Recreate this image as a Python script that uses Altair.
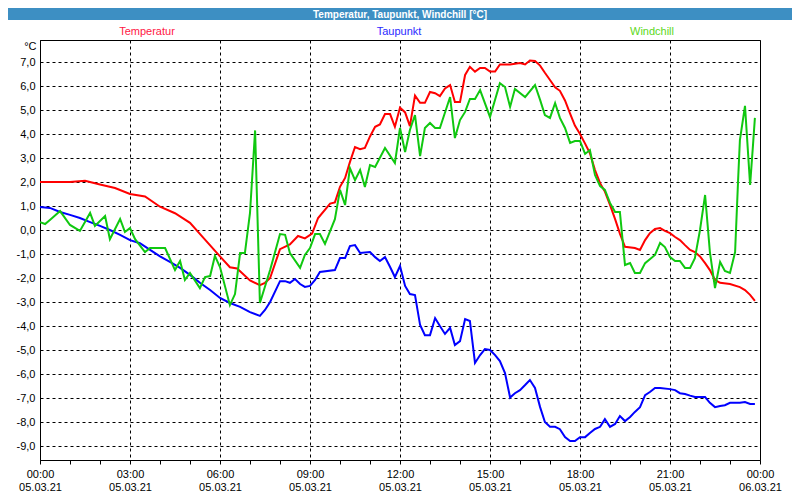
import json
import altair as alt
import pandas as pd

# ---------------- data (hours since 05.03.21 00:00, °C) ----------------
temp_h = [0, 0.5, 1.0, 1.5, 2.0, 2.5, 3.0, 3.5, 4.0, 4.5, 5.0, 5.5, 6.0, 6.33, 6.57, 7.0, 7.33, 7.5, 7.67,
          8.0, 8.33, 8.6, 8.83, 9.07, 9.27, 9.67, 9.83, 10.0, 10.17, 10.33, 10.5, 10.67, 10.83, 11.0, 11.17,
          11.33, 11.5, 11.67, 11.83, 12.0, 12.17, 12.33, 12.5, 12.67, 12.83, 13.0, 13.17, 13.33, 13.5, 13.67,
          13.83, 14.0, 14.17, 14.33, 14.5, 14.67, 14.83, 15.0, 15.17, 15.33, 15.67, 16.0, 16.17, 16.33, 16.5,
          16.67, 16.83, 17.0, 17.17, 17.33, 17.5, 17.67, 17.83, 18.0, 18.17, 18.33, 18.5, 18.67, 18.83, 19.0,
          19.17, 19.33, 19.5, 19.83, 20.0, 20.17, 20.33, 20.5, 20.67, 20.83, 21.0, 21.17, 21.33, 21.5, 21.67,
          21.83, 22.0, 22.17, 22.33, 22.5, 22.67, 23.0, 23.33, 23.5, 23.67, 23.83]
temp_v = [2.0, 2.0, 2.0, 2.05, 1.9, 1.75, 1.5, 1.4, 0.97, 0.7, 0.3, -0.4, -1.1, -1.55, -1.6, -2.1, -2.3, -2.2, -2.0,
          -0.8, -0.6, -0.25, -0.35, -0.15, 0.5, 1.1, 1.15, 1.8, 2.17, 2.83, 3.46, 3.37, 3.42, 3.9, 4.3,
          4.4, 4.83, 4.83, 4.3, 5.1, 4.9, 4.33, 5.6, 5.3, 5.3, 5.75, 5.7, 5.58, 5.9, 6.04,
          5.33, 5.33, 6.46, 6.8, 6.6, 6.75, 6.75, 6.6, 6.6, 6.9, 6.9, 6.96, 6.9, 7.06, 7.04,
          6.85, 6.55, 6.25, 5.95, 5.8, 5.4, 4.85, 4.35, 4.0, 3.6, 3.2, 2.5, 1.95, 1.6, 1.05,
          0.45, -0.15, -0.7, -0.75, -0.83, -0.42, -0.13, 0.04, 0.08, -0.04, -0.13, -0.29, -0.42, -0.63, -0.83,
          -0.92, -1.1, -1.38, -1.67, -2.08, -2.2, -2.25, -2.38, -2.5, -2.7, -2.95]

dew_h = [0, 0.33, 0.67, 1.0, 1.33, 1.67, 2.0, 2.33, 2.67, 3.0, 3.33, 3.67, 4.0, 4.33, 4.67, 5.0, 5.33, 5.67,
         6.0, 6.33, 6.67, 7.0, 7.33, 7.5, 7.67, 8.0, 8.17, 8.33, 8.5, 8.67, 8.83, 9.0, 9.17, 9.33, 9.83,
         10.0, 10.17, 10.33, 10.5, 10.67, 11.0, 11.17, 11.33, 11.5, 11.67, 11.83, 12.0, 12.17, 12.33, 12.5,
         12.67, 12.83, 13.0, 13.17, 13.33, 13.5, 13.67, 13.83, 14.0, 14.17, 14.33, 14.5, 14.67, 14.83, 15.0,
         15.17, 15.33, 15.5, 15.67, 15.83, 16.0, 16.17, 16.33, 16.5, 16.67, 16.83, 17.0, 17.17, 17.33, 17.5,
         17.67, 17.83, 18.0, 18.17, 18.33, 18.5, 18.67, 18.83, 19.0, 19.17, 19.33, 19.5, 19.67, 19.83, 20.0,
         20.17, 20.33, 20.5, 20.67, 21.0, 21.17, 21.33, 21.5, 21.67, 21.83, 22.17, 22.33, 22.5, 22.67, 22.83,
         23.0, 23.33, 23.5, 23.67, 23.83]
dew_v = [0.96, 0.92, 0.75, 0.63, 0.5, 0.33, 0.17, 0.0, -0.2, -0.42, -0.55, -0.83, -1.1, -1.33, -1.58, -1.87, -2.2, -2.5,
         -2.83, -3.04, -3.2, -3.42, -3.58, -3.33, -3.0, -2.13, -2.13, -2.2, -2.04, -2.25, -2.37, -2.33, -2.08, -1.75, -1.67,
         -1.17, -1.17, -0.67, -0.63, -0.96, -0.92, -1.13, -1.29, -1.13, -1.54, -1.96, -1.5, -2.33, -2.67, -2.71,
         -3.96, -4.38, -4.38, -3.67, -4.0, -4.33, -4.08, -4.79, -4.63, -3.71, -3.79, -5.54, -5.21, -4.96, -5.0,
         -5.21, -5.46, -5.96, -6.98, -6.8, -6.67, -6.46, -6.25, -6.58, -7.38, -8.0, -8.2, -8.2, -8.3, -8.63,
         -8.79, -8.79, -8.63, -8.63, -8.46, -8.29, -8.2, -7.88, -8.2, -8.08, -7.75, -7.96, -7.79, -7.58, -7.38,
         -6.88, -6.75, -6.58, -6.58, -6.63, -6.67, -6.8, -6.83, -6.9, -6.96, -6.96, -7.2, -7.38, -7.33, -7.3,
         -7.2, -7.2, -7.17, -7.25, -7.25]

wind_h = [0, 0.17, 0.33, 0.67, 1.0, 1.33, 1.67, 1.83, 2.17, 2.33, 2.67, 2.83, 3.0, 3.17, 3.5, 3.67, 4.17, 4.5,
          4.67, 4.83, 5.0, 5.33, 5.5, 5.67, 5.83, 6.0, 6.33, 6.5, 6.67, 6.83, 7.0, 7.17, 7.33, 7.67, 8.0, 8.17,
          8.33, 8.67, 8.83, 9.0, 9.17, 9.33, 9.5, 9.83, 10.0, 10.17, 10.33, 10.5, 10.67, 10.83, 11.0, 11.17,
          11.5, 11.83, 12.0, 12.17, 12.33, 12.5, 12.67, 12.83, 13.0, 13.17, 13.33, 13.67, 13.83, 14.0, 14.17,
          14.33, 14.5, 14.67, 15.0, 15.33, 15.5, 15.67, 15.83, 16.17, 16.5, 16.67, 16.83, 17.0, 17.17, 17.33,
          17.5, 17.67, 17.83, 18.0, 18.17, 18.33, 18.5, 18.67, 18.83, 19.0, 19.17, 19.33, 19.5, 19.67, 19.83,
          20.0, 20.17, 20.5, 20.67, 20.83, 21.0, 21.17, 21.33, 21.5, 21.67, 21.83, 22.0, 22.17, 22.33, 22.5,
          22.67, 22.83, 23.0, 23.17, 23.27, 23.33, 23.5, 23.67, 23.77, 23.83]
wind_v = [0.33, 0.25, 0.42, 0.79, 0.21, -0.04, 0.71, 0.17, 0.58, -0.38, 0.46, -0.08, 0.08, -0.38, -0.92, -0.75, -0.75, -1.67,
          -1.29, -2.08, -1.79, -2.42, -1.96, -1.92, -1.08, -1.54, -3.13, -2.67, -0.96, -0.96, 0.71, 4.15, -3.04, -1.67, -0.17, -0.2,
          -0.96, -1.58, -1.04, -0.75, -0.17, -0.17, -0.58, 0.45, 1.67, 1.04, 2.58, 2.08, 2.5, 1.79, 2.71, 2.63,
          3.42, 2.79, 4.25, 3.25, 4.17, 4.79, 3.08, 4.25, 4.46, 4.25, 4.25, 5.54, 3.83, 4.58, 4.92,
          5.46, 5.46, 5.83, 4.71, 6.12, 5.96, 5.13, 5.88, 5.54, 6.04, 5.42, 4.79, 4.67, 5.29, 4.67,
          4.25, 3.63, 3.71, 3.71, 3.17, 3.33, 2.29, 1.83, 1.67, 1.13, 0.75, 0.75, -1.46, -1.38, -1.79,
          -1.79, -1.38, -1.04, -0.54, -0.71, -1.13, -1.29, -1.29, -1.58, -1.58, -1.17, 0.0, 1.46, -0.92, -2.42,
          -1.33, -1.71, -1.79, -0.92, 2.08, 3.75, 5.17, 1.88, 3.6, 4.67]

series_names = ["Temperatur", "Taupunkt", "Windchill"]
line_colors = ["#ff0000", "#0000ff", "#10c810"]
label_colors = ["#ff1744", "#2a2aff", "#5cd81a"]
label_x = [107, 359, 612]

tick_times = ["00:00", "03:00", "06:00", "09:00", "12:00", "15:00", "18:00", "21:00", "00:00"]
tick_dates = ["05.03.21"] * 8 + ["06.03.21"]
x_ticks = list(range(0, 25))
y_ticks = list(range(-9, 8))
title_text = "Temperatur, Taupunkt, Windchill [°C]"

rows = []
for name, hs, vs in zip(series_names, [temp_h, dew_h, wind_h], [temp_v, dew_v, wind_v]):
    for i, (h, v) in enumerate(zip(hs, vs)):
        rows.append({"serie": name, "h": h, "v": v, "o": i})
df = pd.DataFrame(rows)

FONT = "Liberation Sans"
W, H = 720, 420

x_scale = alt.Scale(domain=[0, 24], nice=False, zero=False)
y_scale = alt.Scale(domain=[-9.583, 7.917], nice=False, zero=False)

x_label_expr = (
    "datum.value % 3 == 0 ? [" + json.dumps(tick_times) + "[datum.value / 3], "
    + json.dumps(tick_dates) + "[datum.value / 3]] : ''"
)

x_axis = alt.Axis(
    values=x_ticks, title=None, grid=True, gridColor="black", gridDash=[3, 3], gridWidth=1,
    gridOpacity=alt.condition("datum.value % 3 == 0", alt.value(1), alt.value(0)),
    ticks=True, tickSize=4, tickColor="black", domainColor="black",
    labelExpr=x_label_expr, labelPadding=4, labelLineHeight=13.5, labelFont=FONT,
    labelFontSize=11, labelColor="black", labelFlush=False, labelOverlap=False,
)
y_axis = alt.Axis(
    values=y_ticks, grid=True, gridColor="black", gridDash=[3, 3], gridWidth=1,
    ticks=False, domainColor="black", labelExpr="datum.value + ',0'", labelPadding=5,
    labelFont=FONT, labelFontSize=11, labelColor="black",
    title="°C", titleAngle=0, titleAlign="right", titleBaseline="middle", titleX=-4, titleY=6,
    titleFont=FONT, titleFontSize=11, titleFontWeight="normal", titleColor="black",
)

lines = alt.Chart(df).mark_line(strokeWidth=2).encode(
    x=alt.X("h:Q", scale=x_scale, axis=x_axis),
    y=alt.Y("v:Q", scale=y_scale, axis=y_axis),
    color=alt.Color("serie:N", scale=alt.Scale(domain=series_names, range=line_colors), legend=None),
    order="o:Q",
)

one = alt.Data(values=[{}])
title_bar = alt.Chart(one).mark_rect(color="#3d8fc3").encode(
    x=alt.value(-32), x2=alt.value(W + 32), y=alt.value(-32), y2=alt.value(-20)
)
title_txt = alt.Chart(one).mark_text(
    text=title_text, font=FONT, fontSize=10, fontWeight="bold", color="white", baseline="alphabetic", align="center"
).encode(x=alt.value(W / 2), y=alt.value(-22.5))

legend_df = pd.DataFrame({"serie": series_names, "lx": label_x, "col": label_colors})
legend_txt = alt.Chart(legend_df).mark_text(font=FONT, fontSize=11, baseline="middle", align="center").encode(
    x=alt.X("lx:Q", scale=None),
    y=alt.value(-8),
    text="serie:N",
    color=alt.Color("col:N", scale=None),
)

chart = alt.layer(title_bar, title_txt, lines, legend_txt).properties(
    width=W, height=H,
    autosize=alt.AutoSizeParams(type="none"),
    padding={"left": 32, "top": 32, "right": 32, "bottom": 32},
    background="white",
).configure_view(stroke="black", strokeWidth=1)

chart.save("out.html", embed_options={"renderer": "svg", "actions": False})
